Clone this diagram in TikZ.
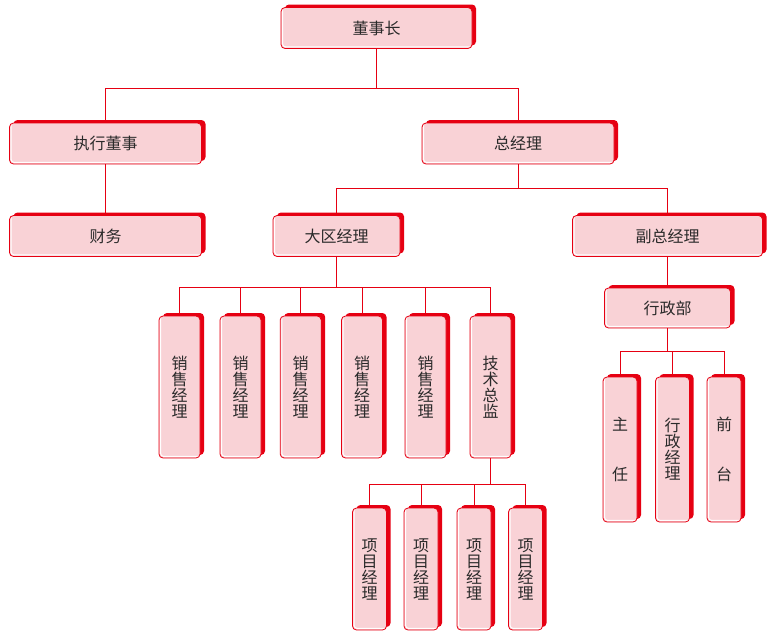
\documentclass[tikz,border=0pt]{standalone}
\usepackage{fontspec}
\setmainfont{Noto Sans CJK SC}
\usepackage{tikz}
\usetikzlibrary{shadows}

\definecolor{boxred}{HTML}{E60012}
\definecolor{boxpink}{HTML}{F9D2D6}
\definecolor{textgray}{HTML}{2A2A2A}

\begin{document}
\begin{tikzpicture}[x=1pt, y=-1pt,
    box/.style={draw=boxred, line width=0.8pt, fill=boxpink, rounded corners=4pt,
      inner sep=0pt, text=textgray, font=\fontsize{16}{16}\selectfont,
      general shadow={fill=boxred, rounded corners=4pt, shadow xshift=4pt, shadow yshift=3pt},
      path picture={\draw[white, line width=1pt, rounded corners=3pt]
        ([shift={(1.6pt,-2pt)}]path picture bounding box.north west)
        |- ([shift={(-2pt,1.6pt)}]path picture bounding box.south east);}},
    hbox/.style={box, minimum width=192pt, minimum height=41pt},
    vbox/.style={box, align=center, minimum width=41pt, minimum height=142pt},
    pbox/.style={box, align=center, minimum width=34pt, minimum height=122pt},
    sbox/.style={box, align=center, minimum width=34pt, minimum height=145pt},
    link/.style={draw=boxred, line width=0.8pt}]
    \useasboundingbox (0,0) rectangle (771,638);

    % Draw top levels
    \node[hbox, minimum width=191pt] (boss) at (376.5,28) {董事长};
    \node[hbox] (exec) at (105.5,143.5) {执行董事};
    \node[hbox] (gm) at (518,143.5) {总经理};
    \node[hbox] (fin) at (105.5,236) {财务};
    \node[hbox, minimum width=127pt] (region) at (336.5,236) {大区经理};
    \node[hbox, minimum width=190pt] (vgm) at (667.5,236) {副总经理};
    \node[hbox, minimum width=126pt, minimum height=40pt] (admin) at (667.5,308) {行政部};

    % Sales managers and technical director
    \foreach \i/\x/\t in {1/179.5/销\\售\\经\\理, 2/240.5/销\\售\\经\\理, 3/300.7/销\\售\\经\\理,
                          4/362/销\\售\\经\\理, 5/425.5/销\\售\\经\\理, 6/490.5/技\\术\\总\\监} {
      \node[vbox] (sale\i) at (\x,387) {\t};
      \draw[link] (region.south) -- ++(0,30) -| (sale\i.north);
    }

    % Project managers
    \foreach \i/\x in {1/369.5, 2/421, 3/474, 4/525.5} {
      \node[pbox] (proj\i) at (\x,569) {项\\目\\经\\理};
      \draw[link] (sale6.south) -- ++(0,26) -| (proj\i.north);
    }

    % Admin staff
    \foreach \i/\x/\t in {1/620/主\\[34pt]任, 2/672.5/行\\政\\经\\理, 3/724/前\\[34pt]台} {
      \node[sbox] (staff\i) at (\x,449.5) {\t};
      \draw[link] (admin.south) -- ++(0,23) -| (staff\i.north);
    }

    % Draw connectors
    \draw[link] (boss.south) -- ++(0,39) -| (exec.north);
    \draw[link] (boss.south) -- ++(0,39) -| (gm.north);
    \draw[link] (exec) -- (fin);
    \draw[link] (gm.south) -- ++(0,24) -| (region.north);
    \draw[link] (gm.south) -- ++(0,24) -| (vgm.north);
    \draw[link] (vgm) -- (admin);
\end{tikzpicture}
\end{document}
